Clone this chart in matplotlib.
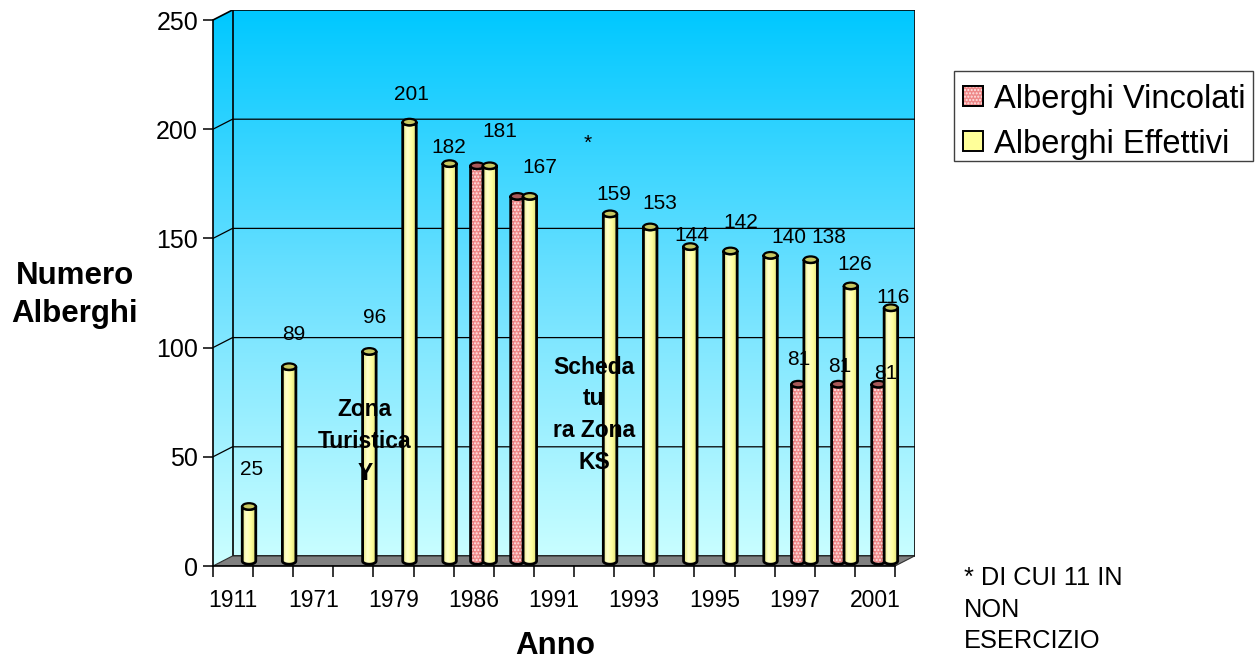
import numpy as np
import matplotlib
matplotlib.use("Agg")
import matplotlib.pyplot as plt
from matplotlib.patches import Polygon, Ellipse, Rectangle
from matplotlib.colors import LinearSegmentedColormap

plt.rcParams["font.family"] = ["Liberation Sans", "DejaVu Sans"]
plt.rcParams["hatch.linewidth"] = 1.0

# ---------------- data ----------------
anni = ["1911", "", "1971", "", "1979", "", "1986", "", "1991", "",
        "1993", "", "1995", "", "1997", "", "2001"]
effettivi = [25, 89, np.nan, 96, 201, 182, 181, 167, np.nan,
             159, 153, 144, 142, 140, 138, 126, 116]
vincolati = [np.nan, np.nan, np.nan, np.nan, np.nan, np.nan, 181, 167, np.nan,
             np.nan, np.nan, np.nan, np.nan, np.nan, 81, 81, 81]
serie = ["Alberghi Vincolati", "Alberghi Effettivi"]
y_ticks = [0, 50, 100, 150, 200, 250]

# value-label placement (pixel offset of the label baseline from the bar top)
off_eff = [(3, 31), (5, 27), None, (5, 28), (2, 22), (-1, 11), (10, 29), (10, 23), None,
           (4, 14), (10, 18), (2, 6), (10, 23), (18, 12), (18, 17), (4, 16), (2, 5)]
off_vin = [None] * 14 + [(0, 19), (1, 12), (7, 5)]

# ---------------- geometry ----------------
W, H = 1258, 660
fig = plt.figure(figsize=(W / 100, H / 100), dpi=100)

n = len(anni)
PX_X = 682 / n          # pixels per category
PX_Y = 546 / 250        # pixels per unit
DEPTH_X, DEPTH_Y = 19.5, 10.0
dx, dy = DEPTH_X / PX_X, DEPTH_Y / PX_Y

left_px, right_px = 213, 213 + 682 + DEPTH_X
top_px, bottom_px = 10, 566
ax = fig.add_axes([left_px / W, 1 - bottom_px / H,
                   (right_px - left_px) / W, (bottom_px - top_px) / H])
ax.set_xlim(0, n + dx)
ax.set_ylim(0, 250 + dy)
ax.patch.set_visible(False)


def fx(x):
    return x / W


def fy(y):
    return 1 - y / H


# ---------------- walls ----------------
wall_cmap = LinearSegmentedColormap.from_list(
    "wall", [(204 / 255, 1.0, 1.0), (110 / 255, 225 / 255, 1.0), (0.0, 200 / 255, 1.0)])
walls = Polygon([(0, 0), (dx, dy), (n + dx, dy), (n + dx, 250 + dy), (dx, 250 + dy), (0, 250)],
                closed=True, fc="none", ec="none", zorder=0.5)
ax.add_patch(walls)
grad = np.linspace(0, 1, 256).reshape(-1, 1)
im = ax.imshow(grad, cmap=wall_cmap, origin="lower", aspect="auto",
               extent=(0, n + dx, 0, 250 + dy), zorder=0.4, interpolation="bilinear")
im.set_clip_path(walls)

ax.add_patch(Rectangle((dx, dy), n, 250, fill=False, ec="black", lw=1.2, zorder=1.6))
ax.plot([0, dx], [250, 250 + dy], color="black", lw=1.2, zorder=1.6)
for v in y_ticks[1:-1]:
    ax.plot([0, dx, n + dx], [v, v + dy, v + dy], color="black", lw=0.9, zorder=1.5)

# floor
ax.add_patch(Polygon([(0, 0), (n, 0), (n + dx, dy), (dx, dy)], closed=True,
                     fc="#808080", ec="#303030", lw=0.8, zorder=2))

# ---------------- axes ----------------
for s in ["top", "right"]:
    ax.spines[s].set_visible(False)
ax.spines["left"].set_bounds(0, 250)
ax.spines["bottom"].set_bounds(0, n)
for s in ["left", "bottom"]:
    ax.spines[s].set_linewidth(1.2)
    ax.spines[s].set_zorder(2.5)

ax.set_yticks(y_ticks)
ax.tick_params(axis="y", direction="out", length=7.2, width=1.1, labelsize=18, pad=3.6)
ax.set_xticks(np.arange(n + 1))
ax.set_xticklabels([])
ax.set_xticks(np.arange(n) + 0.5, minor=True)
ax.set_xticklabels(anni, minor=True)
ax.tick_params(axis="x", which="major", direction="out", length=8, width=1.1)
ax.tick_params(axis="x", which="minor", length=0, labelsize=16.5, pad=16.5)

# ---------------- cylinders ----------------
BAR_W = 13.5 / PX_X
EH = 3.2 / PX_Y
base = dy / 2
mid = dx / 2
SHIFT = 6.2 / PX_X

yellow_profile = LinearSegmentedColormap.from_list(
    "yel", [(0.0, (0.90, 0.90, 0.50)), (0.3, (1.0, 1.0, 0.80)), (0.65, (1.0, 1.0, 0.62)),
            (1.0, (0.86, 0.86, 0.44))])
pink_profile = LinearSegmentedColormap.from_list(
    "pnk", [(0.0, (0.85, 0.42, 0.42)), (0.35, (0.96, 0.58, 0.58)), (1.0, (0.84, 0.40, 0.40))])
prof = np.linspace(0, 1, 64).reshape(1, -1)


def cylinder(cx, value, cmap, cap_color, hatch, z):
    hw = BAR_W / 2
    y0, y1 = base, base + value
    t = np.linspace(np.pi, 2 * np.pi, 40)
    bottom_arc = np.column_stack([cx + hw * np.cos(t), y0 + EH * np.sin(t)])
    top_arc = np.column_stack([cx + hw * np.cos(t[::-1]), y1 + EH * np.sin(t[::-1])])
    verts = np.vstack([bottom_arc, top_arc])
    body = Polygon(verts, closed=True, fc="none", ec="none", zorder=z)
    ax.add_patch(body)
    img = ax.imshow(prof, cmap=cmap, aspect="auto", interpolation="bilinear",
                    extent=(cx - hw, cx + hw, y0 - EH, y1), zorder=z + 0.001)
    img.set_clip_path(body)
    if hatch:
        ax.add_patch(Polygon(verts, closed=True, fc="none", ec="#FFE4E4", lw=0,
                             hatch=hatch, zorder=z + 0.002))
    ax.add_patch(Polygon(verts, closed=True, fill=False, ec="black", lw=2.0,
                         joinstyle="round", zorder=z + 0.003))
    ax.add_patch(Ellipse((cx, y1), 2 * hw, 2 * EH, fc=cap_color, ec="black", lw=1.6,
                         zorder=z + 0.004))


z = 3.0
for i in range(n):
    c = i + 0.5 + mid
    if not np.isnan(vincolati[i]):
        cylinder(c - SHIFT, vincolati[i], pink_profile, "#A85858", ".....", z)
        z += 0.01
    if not np.isnan(effettivi[i]):
        cylinder(c + SHIFT, effettivi[i], yellow_profile, "#C8C860", None, z)
        z += 0.01

# value labels
for i in range(n):
    c = i + 0.5 + mid
    for vals, offs, sx in ((vincolati, off_vin, -SHIFT), (effettivi, off_eff, SHIFT)):
        if offs[i] is not None and not np.isnan(vals[i]):
            ax.annotate(f"{vals[i]:.0f}", xy=(c + sx, base + vals[i]), xytext=offs[i],
                        textcoords="offset pixels", ha="center", va="baseline",
                        fontsize=15, zorder=10, annotation_clip=False)

# ---------------- texts ----------------
# (va="baseline" on multi-line text anchors the last line)
fig.text(fx(75), fy(322), "Numero\nAlberghi", ha="center", va="baseline",
         multialignment="center", fontsize=22.5, fontweight="bold", linespacing=1.35)
fig.text(fx(555), fy(654), "Anno", ha="center", va="baseline", fontsize=22.5,
         fontweight="bold")
fig.text(fx(365), fy(480), "Zona\nTuristica\nY", ha="center", va="baseline",
         multialignment="center", fontsize=16.5, fontweight="bold", linespacing=1.49,
         zorder=12)
fig.text(fx(594), fy(469), "Scheda\ntu\nra Zona\nKS", ha="center", va="baseline",
         multialignment="center", fontsize=16.5, fontweight="bold", linespacing=1.49,
         zorder=12)
fig.text(fx(588), fy(149), "*", ha="center", va="baseline", fontsize=15)
fig.text(fx(964), fy(648), "* DI CUI 11 IN\nNON\nESERCIZIO", ha="left", va="baseline",
         fontsize=18.3, linespacing=1.39)

# ---------------- legend ----------------
fig.add_artist(Rectangle((fx(954), fy(161)), 299 / W, 90 / H, transform=fig.transFigure,
                         fc="white", ec="#404040", lw=1.0))
legend_rows = [(96, "#EE8888", ".....", serie[0]), (141, "#FFFF99", None, serie[1])]
for yc, col, htc, lab in legend_rows:
    fig.add_artist(Rectangle((fx(963), fy(yc + 10)), 20 / W, 20 / H, transform=fig.transFigure,
                             fc=col, ec="black", lw=1.4))
    if htc:
        fig.add_artist(Rectangle((fx(963), fy(yc + 10)), 20 / W, 20 / H,
                                 transform=fig.transFigure, fc="none", ec="#FFE4E4",
                                 lw=0, hatch=htc))
        fig.add_artist(Rectangle((fx(963), fy(yc + 10)), 20 / W, 20 / H,
                                 transform=fig.transFigure, fill=False, ec="black", lw=1.4))
    fig.text(fx(994), fy(yc), lab, ha="left", va="center_baseline", fontsize=23.5)

fig.savefig("out.png", dpi=100)
